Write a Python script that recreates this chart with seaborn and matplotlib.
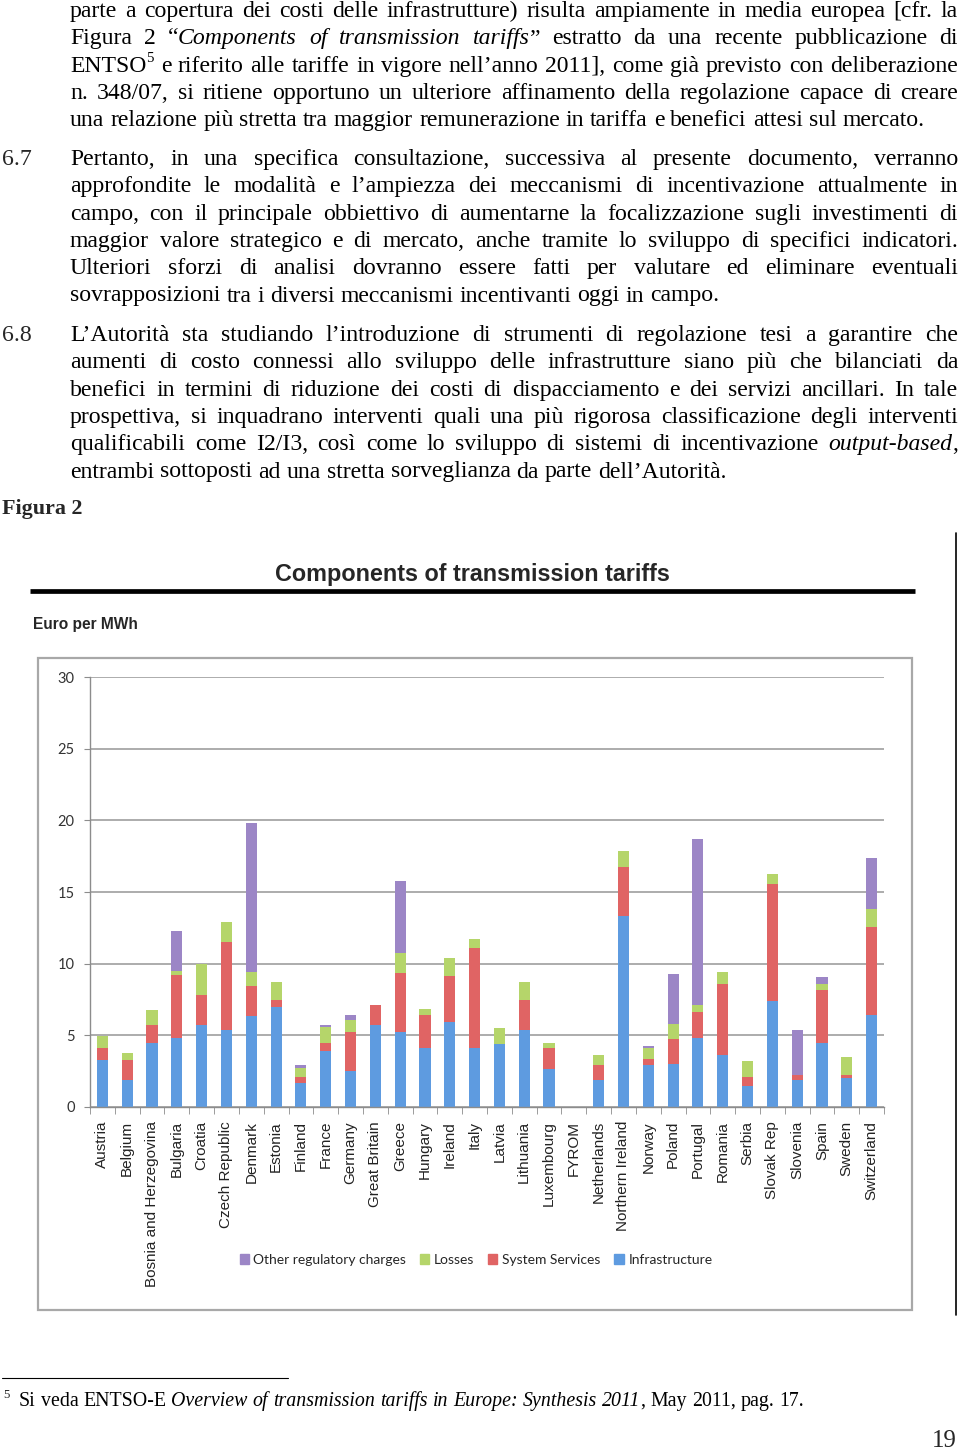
import re
import numpy as np
import pandas as pd
import matplotlib
matplotlib.use("Agg")
import matplotlib.pyplot as plt
import matplotlib.patches as mpatches
import seaborn as sns

paesi = ["Austria", "Belgium", "Bosnia and Herzegovina", "Bulgaria", "Croatia",
         "Czech Republic", "Denmark", "Estonia", "Finland", "France", "Germany",
         "Great Britain", "Greece", "Hungary", "Ireland", "Italy", "Latvia",
         "Lithuania", "Luxembourg", "FYROM", "Netherlands", "Northern Ireland",
         "Norway", "Poland", "Portugal", "Romania", "Serbia", "Slovak Rep",
         "Slovenia", "Spain", "Sweden", "Switzerland"]
infrastruttura = [3.25, 1.85, 4.45, 4.8, 5.75, 5.35, 6.35, 6.95, 1.7, 3.9, 2.5,
                  5.75, 5.25, 4.1, 5.95, 4.1, 4.4, 5.35, 2.65, 0.0, 1.85, 13.3,
                  2.95, 3.0, 4.8, 3.6, 1.5, 7.4, 1.9, 4.45, 2.0, 6.4]
servizi_sistema = [0.9, 1.45, 1.3, 4.4, 2.05, 6.15, 2.1, 0.5, 0.4, 0.6, 2.7,
                   1.35, 4.1, 2.3, 3.2, 7.0, 0.0, 2.1, 1.5, 0.0, 1.05, 3.45,
                   0.4, 1.75, 1.85, 4.95, 0.6, 8.15, 0.35, 3.7, 0.2, 6.15]
perdite = [0.8, 0.45, 1.0, 0.3, 2.15, 1.4, 0.95, 1.25, 0.6, 1.1, 0.9,
           0.0, 1.4, 0.45, 1.25, 0.6, 1.1, 1.3, 0.3, 0.0, 0.7, 1.1,
           0.8, 1.05, 0.45, 0.85, 1.1, 0.7, 0.0, 0.45, 1.3, 1.25]
altri_oneri = [0.0, 0.0, 0.0, 2.75, 0.0, 0.0, 10.4, 0.0, 0.2, 0.1, 0.3,
               0.0, 5.05, 0.0, 0.0, 0.0, 0.0, 0.0, 0.0, 0.0, 0.0, 0.0,
               0.1, 3.5, 11.6, 0.0, 0.0, 0.0, 3.15, 0.45, 0.0, 3.55]
y_ticks = [0, 5, 10, 15, 20, 25, 30]
voci_legenda = ["Other regulatory charges", "Losses", "System Services", "Infrastructure"]
colori = ["#9C86C6", "#B5D56A", "#E06464", "#5E9BE0"]

# testo della pagina
par_1 = [
    "parte a copertura dei costi delle infrastrutture) risulta ampiamente in media europea [cfr. la",
    "Figura 2 “*Components* *of* *transmission* *tariffs*” estratto da una recente pubblicazione di",
    "ENTSO^5^ e riferito alle tariffe in vigore nell’anno 2011], come già previsto con deliberazione",
    "n. 348/07, si ritiene opportuno un ulteriore affinamento della regolazione capace di creare",
    "una relazione più stretta tra maggior remunerazione in tariffa e benefici attesi sul mercato.",
]
par_67 = [
    "Pertanto, in una specifica consultazione, successiva al presente documento, verranno",
    "approfondite le modalità e l’ampiezza dei meccanismi di incentivazione attualmente in",
    "campo, con il principale obbiettivo di aumentarne la focalizzazione sugli investimenti di",
    "maggior valore strategico e di mercato, anche tramite lo sviluppo di specifici indicatori.",
    "Ulteriori sforzi di analisi dovranno essere fatti per valutare ed eliminare eventuali",
    "sovrapposizioni tra i diversi meccanismi incentivanti oggi in campo.",
]
par_68 = [
    "L’Autorità sta studiando l’introduzione di strumenti di regolazione tesi a garantire che",
    "aumenti di costo connessi allo sviluppo delle infrastrutture siano più che bilanciati da",
    "benefici in termini di riduzione dei costi di dispacciamento e dei servizi ancillari. In tale",
    "prospettiva, si inquadrano interventi quali una più rigorosa classificazione degli interventi",
    "qualificabili come I2/I3, così come lo sviluppo di sistemi di incentivazione *output-based*,",
    "entrambi sottoposti ad una stretta sorveglianza da parte dell’Autorità.",
]
nota = ("Si veda ENTSO-E *Overview* *of* *transmission* *tariffs* *in* *Europe:* "
        "*Synthesis* *2011*, May 2011, pag. 17.")

sns.set_style("white")
plt.rcParams["font.family"] = ["Liberation Serif", "DejaVu Serif"]

fig = plt.figure(figsize=(9.6, 14.51), dpi=100)
renderer = fig.canvas.get_renderer()

# asse "pagina" in pixel
page = fig.add_axes([0, 0, 1, 1], zorder=0)
page.set_xlim(0, 960)
page.set_ylim(1451, 0)
page.axis("off")


def segmenti(parola):
    out = []
    for pezzo in re.split(r'(\*[^*]+\*|\^[^^]+\^)', parola):
        if not pezzo:
            continue
        if pezzo.startswith("*"):
            out.append((pezzo[1:-1], "italic"))
        elif pezzo.startswith("^"):
            out.append((pezzo[1:-1], "sup"))
        else:
            out.append((pezzo, "normal"))
    return out


def stile_kw(stile, size):
    if stile == "sup":
        return dict(fontsize=size * 0.62, fontstyle="normal")
    return dict(fontsize=size, fontstyle=stile)


def larghezza(testo, stile, size):
    t = page.text(0, 0, testo, **stile_kw(stile, size))
    w = t.get_window_extent(renderer).width
    t.remove()
    return w


def spazio(size):
    return larghezza("a a", "normal", size) - larghezza("aa", "normal", size)


def misura(testo, size):
    parole = [segmenti(p) for p in testo.split(" ")]
    tot = sum(larghezza(s, st, size) for p in parole for s, st in p)
    return tot + spazio(size) * (len(parole) - 1)


def riga(y, testo, size, x0=70, x1=958, giustifica=True):
    parole = [segmenti(p) for p in testo.split(" ")]
    larg = [[larghezza(s, st, size) for s, st in p] for p in parole]
    tot = sum(sum(l) for l in larg)
    gap = spazio(size)
    if giustifica and len(parole) > 1:
        gap = (x1 - x0 - tot) / (len(parole) - 1)
    x = x0
    for p, l in zip(parole, larg):
        for (s, st), w in zip(p, l):
            dy = -size * 100 / 72 * 0.42 if st == "sup" else 0
            page.text(x, y + dy, s, va="baseline", color="black", **stile_kw(st, size))
            x += w
        x += gap


def paragrafo(righe, y0, size, passo=27.3):
    for i, r in enumerate(righe):
        riga(y0 + i * passo, r, size, giustifica=(i < len(righe) - 1))


# calibrazione della dimensione del testo sull'ultima riga del primo paragrafo
corpo = 14 * 857 / misura(par_1[-1], 14)

paragrafo(par_1, 17, corpo)
page.text(2, 165, "6.7", fontsize=corpo, va="baseline")
paragrafo(par_67, 165, corpo)
page.text(2, 341, "6.8", fontsize=corpo, va="baseline")
paragrafo(par_68, 341, corpo)
page.text(2, 514, "Figura 2", fontsize=corpo * 0.93, weight="bold", va="baseline")

# nota a piè di pagina
page.plot([2, 288], [1378, 1378], color="black", lw=0.8)
corpo_nota = 10 * 784 / misura(nota, 10)
page.text(3, 1398, "5", fontsize=corpo_nota * 0.65, va="baseline")
riga(1406, nota, corpo_nota, x0=19, giustifica=False)
page.text(957, 1441, "19", fontsize=corpo * 1.05, ha="right", va="center")

# cornice del grafico
page.plot([956, 956], [533, 1315], color="black", lw=1.2)
page.text(472, 575, "Components of transmission tariffs", ha="center", va="center",
          fontsize=16.8, weight="bold", family="Liberation Sans")
page.plot([30, 915], [591, 591], color="black", lw=3.4, solid_capstyle="butt")
page.text(33, 624, "Euro per MWh", va="center", fontsize=11.2, weight="bold",
          family="Liberation Sans")
page.add_patch(mpatches.Rectangle((38, 658), 874, 652, fill=False,
                                  ec="#A8A8A8", lw=1.6))

# grafico a barre impilate
df = pd.DataFrame({"paese": paesi, "infra": infrastruttura, "ss": servizi_sistema,
                   "perdite": perdite, "altri": altri_oneri})
df["c_ss"] = df["infra"] + df["ss"]
df["c_perdite"] = df["c_ss"] + df["perdite"]
df["c_altri"] = df["c_perdite"] + df["altri"]

ax = fig.add_axes([90 / 960, 1 - 1107 / 1451, 794 / 960, 430 / 1451], zorder=1)
ax.patch.set_alpha(0)
for col, colore in zip(["c_altri", "c_perdite", "c_ss", "infra"], colori):
    sns.barplot(data=df, x="paese", y=col, color=colore, width=0.45,
                saturation=1, linewidth=0, ax=ax)

ax.set_xlim(-0.5, len(paesi) - 0.5)
ax.set_ylim(0, 30)
ax.set_yticks(y_ticks)
ax.yaxis.grid(True, color="#A6A6A6", lw=1.3)
ax.xaxis.grid(False)
ax.set_axisbelow(True)
ax.set_xlabel("")
ax.set_ylabel("")
for lato in ["top", "right"]:
    ax.spines[lato].set_visible(False)
for lato in ["left", "bottom"]:
    ax.spines[lato].set_color("#8C8C8C")
    ax.spines[lato].set_linewidth(1.0)

ax.tick_params(axis="y", length=4, color="#8C8C8C", labelsize=10.5, pad=7,
               labelcolor="#333333", left=True)
for t in ax.get_yticklabels():
    t.set_family("Lato")
ax.tick_params(axis="x", which="major", length=0, pad=10, labelsize=11,
               labelrotation=90, labelcolor="#222222")
for t in ax.get_xticklabels():
    t.set_family("Liberation Sans")
ax.set_xticks(np.arange(-0.5, len(paesi), 1), minor=True)
ax.tick_params(axis="x", which="minor", length=5, color="#8C8C8C", bottom=True)

maniglie = [mpatches.Patch(color=c) for c in colori]
fig.legend(maniglie, voci_legenda, loc="center",
           bbox_to_anchor=(476 / 960, 1 - 1260 / 1451), ncol=4, frameon=False,
           handlelength=0.65, handleheight=0.65, handletextpad=0.35,
           columnspacing=1.0, prop={"family": "Lato", "size": 10})

fig.savefig("out.png", dpi=100)
